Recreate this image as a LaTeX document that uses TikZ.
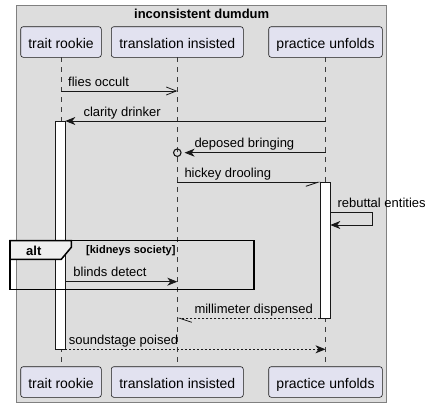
\documentclass[tikz,border=0pt]{standalone}
\usepackage{fontspec}
\setmainfont{Liberation Sans}
\usetikzlibrary{arrows.meta}
\definecolor{boxgrey}{HTML}{DDDDDD}
\definecolor{partfill}{HTML}{E2E2F0}
\definecolor{ink}{HTML}{181818}
\definecolor{tabgrey}{HTML}{EEEEEE}
\tikzset{
  part/.style={draw=ink,fill=partfill,rounded corners=2.5pt,line width=0.6pt,
    minimum height=30.6pt,inner sep=0pt,text height=13pt,text depth=0pt,
    font=\fontsize{14}{16}\selectfont},
  lifeline/.style={ink!85,line width=0.5pt,dash pattern=on 5pt off 5pt},
  actbar/.style={draw=ink,fill=white,line width=0.8pt},
  msg/.style={ink,line width=0.8pt,-{Stealth[length=10pt,width=8pt,inset=3pt]}},
  openmsg/.style={ink,line width=0.8pt,-{Straight Barb[length=10pt,width=8pt]}},
  halfmsg/.style={ink,line width=0.8pt,-{Straight Barb[length=12pt,width=8pt,harpoon,#1]}},
  reply/.style={dash pattern=on 2pt off 2pt},
  lbl/.style={font=\fontsize{13}{15}\selectfont,inner sep=0pt,anchor=base west}
}
\begin{document}
\begin{tikzpicture}[x=1pt,y=-1pt]
\useasboundingbox (0,0) rectangle (432,407);
\draw[fill=boxgrey,draw=ink!55,line width=0.8pt] (16.7,5.7) rectangle (386.7,402);
\node[font=\bfseries\fontsize{13}{15}\selectfont,anchor=base] (title) at (201.7,18.3) {inconsistent dumdum};
% participants
\foreach \n/\x/\w/\t in {tr/61/80.6/trait rookie,ti/177.3/132/translation insisted,pu/325.5/113.6/practice unfolds}{
  \draw[lifeline] (\x,57.3) -- (\x,366.7);
  \node[part,minimum width=\w pt] (\n top) at (\x,42) {\t};
  \node[part,minimum width=\w pt] (\n bot) at (\x,382) {\t};
}
% activations
\draw[actbar] (55.3,121) rectangle (65.3,349.3);
\draw[actbar] (320.3,182.3) rectangle (330.3,318.3);
\coordinate (trA) at (65.3,0);
\coordinate (puA) at (320.3,0);
\coordinate (puB) at (330.3,0);
% messages
\draw[openmsg] (trtop |- 0,91) -- (titop |- 0,91);
\node[lbl] (m1) at (68,86) {flies occult};
\draw[msg] (putop |- 0,121) -- (trA |- 0,121);
\node[lbl] (m2) at (83.3,116) {clarity drinker};
\node[circle,draw=ink,line width=1.1pt,minimum size=7.5pt,inner sep=0pt] (lost) at (titop |- 0,152.7) {};
\draw[msg] (putop |- 0,152.7) -- ([xshift=3pt]lost.east);
\node[lbl] (m3) at (194.3,147.3) {deposed bringing};
\draw[halfmsg=swap] (titop |- 0,182.3) -- (puA |- 0,182.3);
\node[lbl] (m4) at (184.3,177.3) {hickey drooling};
\draw[msg] (puB |- 0,212.3) -- (372.3,212.3) -- (372.3,225) -- (puB |- 0,225);
\node[lbl] (m5) at (337.3,207.3) {rebuttal entities};
% alt
\draw[ink,line width=0.8pt,-{Stealth[length=10pt,width=8pt,inset=3pt]}] (trA |- 0,281.7) -- (titop |- 0,281.7);
\node[lbl] (m6) at (73.3,276.7) {blinds detect};
\draw[black,line width=1.5pt] (10,240.7) rectangle (254,289.3);
\draw[black,fill=tabgrey,line width=1.5pt] (10,240.7) -- (71.3,240.7) -- (71.3,247.3) -- (61.3,259.3) -- (10,259.3) -- cycle;
\node[font=\bfseries\fontsize{13}{15}\selectfont,anchor=base west,inner sep=0pt] (alttag) at (26,255) {alt};
\node[font=\bfseries\fontsize{11}{13}\selectfont,anchor=base west,inner sep=0pt] (guard) at (86,253.5) {[kidneys society]};
\draw[halfmsg=,reply] (puA |- 0,318.3) -- (titop |- 0,318.3);
\node[lbl] (m7) at (194.3,313.3) {millimeter dispensed};
\draw[msg,reply] (trA |- 0,349.3) -- (putop |- 0,349.3);
\node[lbl] (m8) at (68.7,344.3) {soundstage poised};
\end{tikzpicture}
\end{document}
